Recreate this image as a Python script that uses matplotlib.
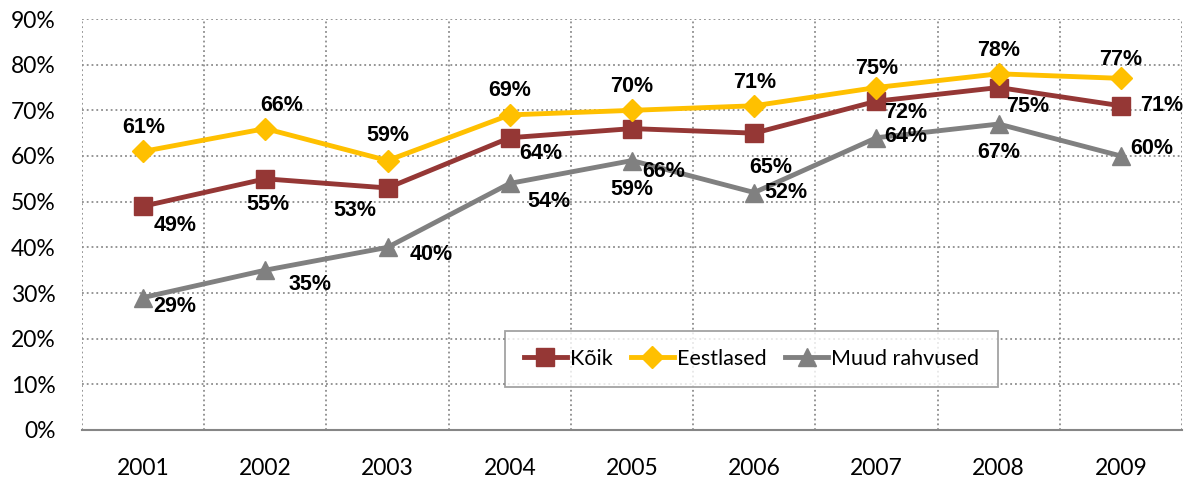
import numpy as np
import matplotlib.pyplot as plt
from matplotlib.ticker import FixedLocator, PercentFormatter

years = ['2001', '2002', '2003', '2004', '2005', '2006', '2007', '2008', '2009']
koik = [49, 55, 53, 64, 66, 65, 72, 75, 71]
eestlased = [61, 66, 59, 69, 70, 71, 75, 78, 77]
muud = [29, 35, 40, 54, 59, 52, 64, 67, 60]

# label offsets in pixels (dx, dy), dy positive = up
off_koik = [(32, -19), (3, -26), (-33, -23), (31, -16), (32, -43), (17, -34), (29, -11), (29, -19), (41, 0)]
off_eest = [(1, 24), (16, 23), (0, 25), (0, 24), (0, 24), (0, 23), (0, 19), (0, 23), (0, 19)]
off_muud = [(32, -9), (45, -14), (44, -7), (39, -18), (0, -29), (32, 0), (29, 1), (0, -28), (31, 7)]

plt.rcParams['font.family'] = ['Lato', 'DejaVu Sans']

fig = plt.figure(figsize=(11.95, 4.84), dpi=100)
ax = fig.add_axes([82/1195, 54/484, 1100/1195, 411/484])

x = np.arange(1, len(years) + 1)
series = [
    ('Kõik', koik, '#953735', 's', off_koik),
    ('Eestlased', eestlased, '#FFC000', 'D', off_eest),
    ('Muud rahvused', muud, '#808080', '^', off_muud),
]
for name, vals, col, mk, offs in series:
    ms = 11 if mk == 'D' else 13
    ax.plot(x, vals, color=col, lw=3.5, marker=mk, markersize=ms, label=name, zorder=3)
    for xi, v, (dx, dy) in zip(x, vals, offs):
        ax.annotate(f'{v}%', (xi, v), xytext=(dx, dy), textcoords='offset pixels',
                    ha='center', va='center', fontsize=15.5, fontweight='bold',
                    family=['Liberation Sans'], color='black', zorder=4)

ax.set_xlim(0.5, len(years) + 0.5)
ax.set_ylim(0, 90)
ax.set_xticks(x)
ax.set_xticklabels(years)
ax.xaxis.set_minor_locator(FixedLocator(np.arange(0.5, len(years) + 1)))
ax.set_yticks(np.arange(0, 91, 10))
ax.yaxis.set_major_formatter(PercentFormatter(decimals=0))
ax.tick_params(axis='both', which='both', length=0, labelsize=16.5, colors='black')
ax.tick_params(axis='x', pad=20)
ax.tick_params(axis='y', pad=19)
ax.grid(True, axis='y', which='major', linestyle=':', color='#8c8c8c', lw=1.3)
ax.grid(True, axis='x', which='minor', linestyle=':', color='#8c8c8c', lw=1.3)
for s in ['left', 'right', 'top']:
    ax.spines[s].set_visible(False)
ax.spines['bottom'].set_color('#868686')
ax.spines['bottom'].set_linewidth(1.5)

leg = ax.legend(loc='center', bbox_to_anchor=(0.6086, 0.1727), ncol=3, fontsize=15.5,
                frameon=True, fancybox=False, handlelength=2.0, handletextpad=0.15,
                columnspacing=0.85, borderpad=0.85, borderaxespad=0)
leg.get_frame().set_edgecolor('#8c8c8c')
leg.get_frame().set_linewidth(1.3)

fig.savefig('out.png', dpi=100)
